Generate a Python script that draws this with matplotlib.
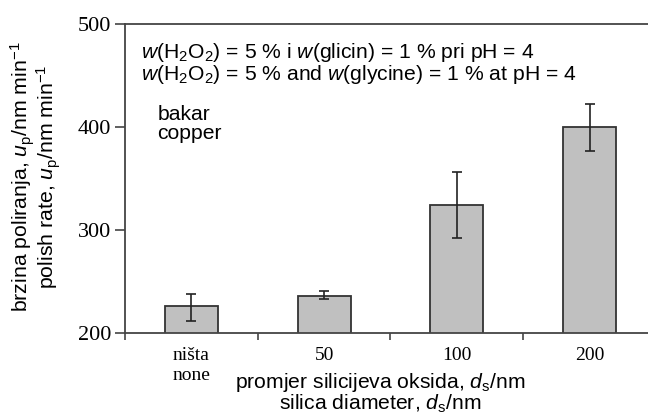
import numpy as np
import matplotlib
matplotlib.use('Agg')
import matplotlib.pyplot as plt

# Polish rate of copper vs. silica particle diameter
categories = ['ništa\nnone', '50', '100', '200']
rate = [226, 236, 324, 400]
err_low = [14, 3, 32, 23]
err_high = [12, 5, 32, 22]

plt.rcParams['font.family'] = ['Liberation Sans', 'DejaVu Sans']
plt.rcParams['mathtext.fontset'] = 'custom'
plt.rcParams['mathtext.rm'] = 'Liberation Sans'
plt.rcParams['mathtext.it'] = 'Liberation Sans:italic'
plt.rcParams['mathtext.bf'] = 'Liberation Sans:bold'

fig = plt.figure(figsize=(6.48, 4.15), dpi=100)
ax = fig.add_axes([125/648, 82/415, 1 - 125/648, 309/415])

x = np.arange(len(categories))
ax.bar(x, rate, width=0.4, color='#c0c0c0', edgecolor='#333333', linewidth=1.3, zorder=2)
ax.errorbar(x, rate, yerr=[err_low, err_high], fmt='none', ecolor='#222222',
            elinewidth=1.2, capsize=3.5, capthick=1.2, zorder=3)

ax.set_xlim(-0.5, 3.44)
ax.set_ylim(200, 500)
ax.set_yticks([200, 300, 400, 500])
ax.set_yticklabels(['200', '300', '400', '500'], fontfamily='Liberation Serif', fontsize=16)

# category boundaries get the tick marks, labels sit under bars
ax.set_xticks(x - 0.5)
ax.set_xticklabels([])
ax.set_xticks(x, minor=True)
ax.set_xticklabels(categories, minor=True, fontfamily='Liberation Serif', fontsize=14,
                   linespacing=1.25)
ax.tick_params(axis='x', which='minor', length=0, pad=10)
ax.tick_params(axis='x', which='major', length=5, width=1.2, color='#444444', direction='out')
ax.tick_params(axis='y', length=7, width=1.2, color='#444444', direction='out', pad=3)

for s in ['left', 'top', 'bottom']:
    ax.spines[s].set_color('#444444')
    ax.spines[s].set_linewidth(1.3)
ax.spines['right'].set_visible(False)

ax.text(0.03, 0.872,
        '$w$(H$_2$O$_2$) = 5 % i $w$(glicin) = 1 % pri pH = 4\n'
        '$w$(H$_2$O$_2$) = 5 % and $w$(glycine) = 1 % at pH = 4',
        transform=ax.transAxes, fontsize=15.2, va='center', ha='left', linespacing=0.95)
ax.text(0.062, 0.675, 'bakar\ncopper', transform=ax.transAxes, fontsize=15.2,
        va='center', ha='left', linespacing=1.0)

fig.text(36/648, 1 - 177/415,
         'brzina poliranja, $u_\\mathrm{p}$/nm min$^{-1}$\npolish rate, $u_\\mathrm{p}$/nm min$^{-1}$',
         rotation=90, ha='center', va='center', multialignment='center', fontsize=15.3,
         linespacing=0.88)
fig.text(380/648, 1 - 393/415,
         'promjer silicijeva oksida, $d_\\mathrm{s}$/nm\nsilica diameter, $d_\\mathrm{s}$/nm',
         ha='center', va='center', multialignment='center', fontsize=15.2, linespacing=0.95)

fig.savefig('out.png', dpi=100)
